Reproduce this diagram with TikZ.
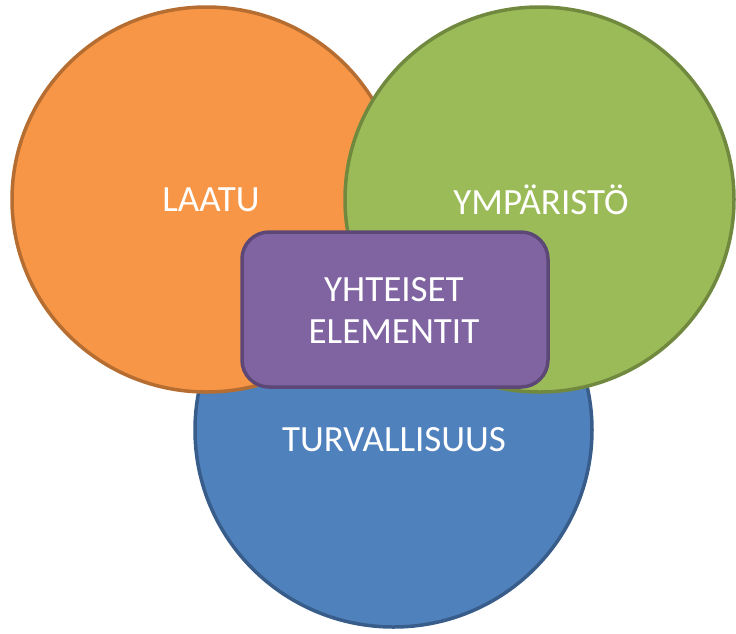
\documentclass[tikz,border=0pt]{standalone}
\usepackage{fontspec}
\setmainfont{Carlito}
\usepackage{tikz}
\usetikzlibrary{calc}
\definecolor{laatu}{HTML}{F79646}
\definecolor{laatuline}{HTML}{B66D31}
\definecolor{ymp}{HTML}{9BBB59}
\definecolor{ympline}{HTML}{71893F}
\definecolor{turva}{HTML}{4F81BD}
\definecolor{turvaline}{HTML}{385D8A}
\definecolor{yht}{HTML}{8064A2}
\definecolor{yhtline}{HTML}{5C4776}
\tikzset{label/.style={text=white,font=\fontsize{37}{42}\selectfont,align=center}}

\begin{document}
\begin{tikzpicture}[x=1pt,y=-1pt,line width=3.5pt]
\useasboundingbox (0,0) rectangle (736,633);
\filldraw[fill=turva,draw=turvaline] (393.5,430) ellipse (198.5 and 197);
\filldraw[fill=laatu,draw=laatuline] (206.5,199.5) ellipse (194.5 and 192.5);
\filldraw[fill=ymp,draw=ympline] (539.5,199.5) ellipse (194.5 and 192.5);
%\path (393,300) node {};
\filldraw[fill=yht,draw=yhtline,rounded corners=27pt] (242,232) rectangle (548,387);
\path (211,200) node[label] (laatu) {LAATU};
\path (541,200) node[label] (ymparisto) {YMPÄRISTÖ};
\path (394,310) node[label] (yhteiset) {YHTEISET\\ELEMENTIT};
\path (394,440) node[label] (turvallisuus) {TURVALLISUUS};
\end{tikzpicture}
\end{document}
